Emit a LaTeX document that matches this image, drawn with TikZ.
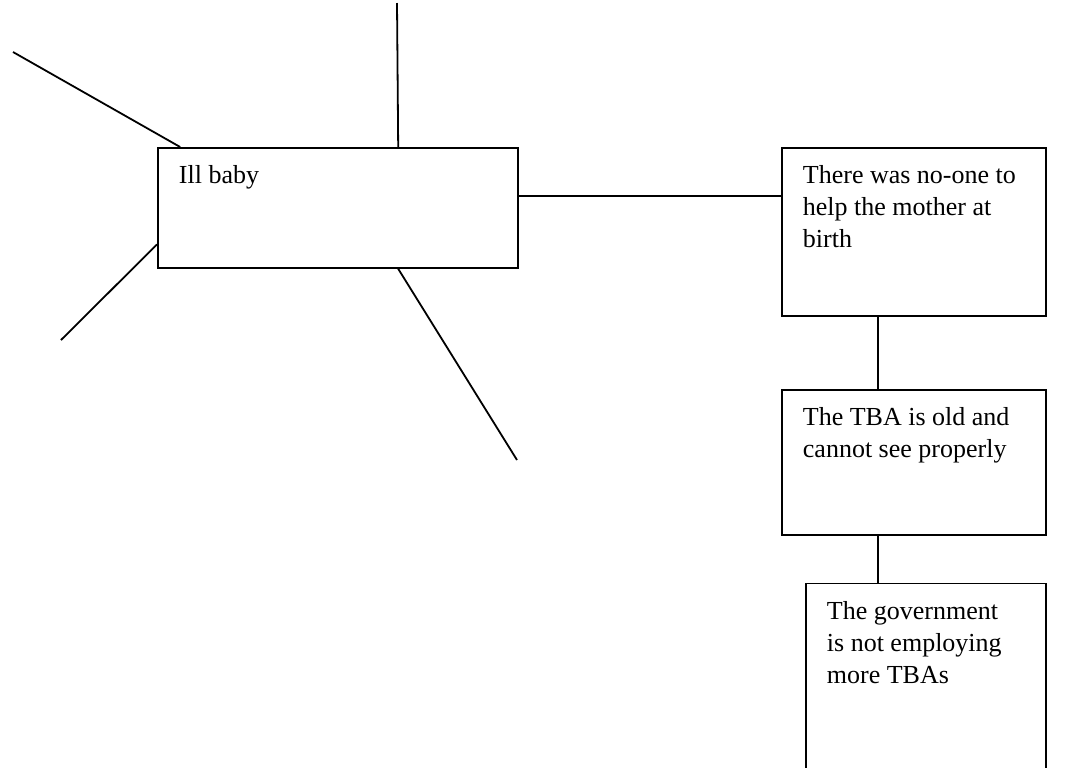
\documentclass[tikz,border=0pt]{standalone}
\usepackage{fontspec}
\setmainfont{Liberation Serif}
\usetikzlibrary{positioning,calc}

\begin{document}
\begin{tikzpicture}[x=0.5pt,y=-0.5pt,line width=0.9pt]
  \tikzstyle{cause}=[rectangle,draw,inner sep=0pt,anchor=north west]
  \tikzstyle{txt}=[anchor=north west,inner sep=0pt,align=left,font=\fontsize{13}{16}\selectfont,xshift=10.5pt,yshift=-9pt]
  \useasboundingbox (0,0) rectangle (1069,767);
  \clip (0,0) rectangle (1069,767);
  % boxes
  \node[cause,minimum width=180pt,minimum height=60pt] (baby) at (157,147) {};
  \node[cause,minimum width=132pt,minimum height=84pt] (nobody) at (781,147) {};
  \node[cause,minimum width=132pt,minimum height=72.5pt,below=36pt of nobody.south west,anchor=north west] (oldtba) {};
  \node[cause,minimum width=120pt,minimum height=110.5pt,below=23.5pt of oldtba.south east,anchor=north east] (govt) {};
  \node[txt] (babytxt) at (baby.north west) {Ill baby};
  \node[txt] (nobodytxt) at (nobody.north west) {There was no-one to\\help the mother at\\birth};
  \node[txt] (oldtbatxt) at (oldtba.north west) {The TBA is old and\\cannot see properly};
  \node[txt] (govttxt) at (govt.north west) {The government\\is not employing\\more TBAs};
  % free ends of the empty branches
  \coordinate (topend) at (397,3);
  \coordinate (ulend) at (13,52);
  \coordinate (llend) at (61,340);
  \coordinate (lrend) at (517,460);
  \draw ($(baby.north west)!2/3!(baby.north east)$) -- (topend);
  \draw ($(baby.north west)!0.064!(baby.north east)$) -- (ulend);
  \draw ($(baby.north west)!0.8!(baby.south west)$) -- (llend);
  \draw ($(baby.south west)!2/3!(baby.south east)$) -- (lrend);
  % chain of causes
  \draw ($(baby.north east)!0.4!(baby.south east)$) coordinate (link) -- (link -| nobody.west);
  \draw ($(nobody.south west)!0.3636!(nobody.south east)$) coordinate (stem) -- (stem |- oldtba.north);
  \draw (stem |- oldtba.south) -- (stem |- govt.north);
\end{tikzpicture}
\end{document}
